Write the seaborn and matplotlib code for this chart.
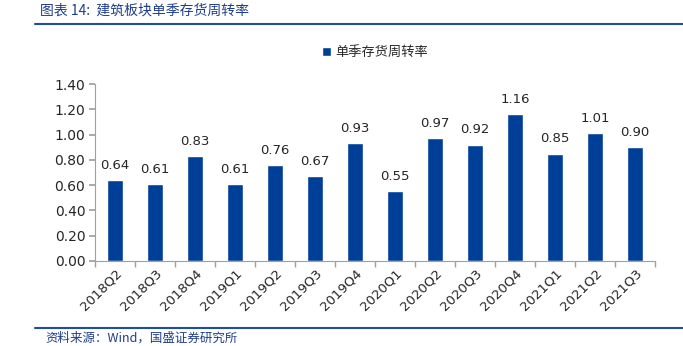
import matplotlib
matplotlib.use("Agg")
import matplotlib.pyplot as plt
import seaborn as sns
import pandas as pd

categories = ["2018Q2", "2018Q3", "2018Q4", "2019Q1", "2019Q2", "2019Q3", "2019Q4",
              "2020Q1", "2020Q2", "2020Q3", "2020Q4", "2021Q1", "2021Q2", "2021Q3"]
values = [0.64, 0.61, 0.83, 0.61, 0.76, 0.67, 0.93, 0.55, 0.97, 0.92, 1.16, 0.85, 1.01, 0.90]
series_name = "单季存货周转率"
yticks = [0.0, 0.2, 0.4, 0.6, 0.8, 1.0, 1.2, 1.4]

sns.set_theme(style="white")
plt.rcParams['font.family'] = ['Noto Sans CJK SC', 'DejaVu Sans']

df = pd.DataFrame({"q": categories, "v": values, "s": series_name})

fig = plt.figure(figsize=(6.83, 3.46), dpi=100)
ax = fig.add_axes([95/683, 1 - 261/346, (655 - 95)/683, (261 - 84)/346])

bar_color = "#003f98"
sns.barplot(data=df, x="q", y="v", hue="s", palette=[bar_color], width=0.4,
            ax=ax, saturation=1, legend=True)

ax.set_ylim(0, 1.4)
ax.set_xlim(-0.5, len(categories) - 0.5)
ax.set_yticks(yticks)
ax.set_yticklabels([f"{t:.2f}" for t in yticks], fontsize=10, family=['DejaVu Sans'])
ax.set_xlabel("")
ax.set_ylabel("")
ax.set_xticks([i for i in range(len(categories))])
ax.set_xticklabels(categories, rotation=45, ha="right", rotation_mode="anchor",
                   fontsize=9.5, family=['DejaVu Sans'])
ax.tick_params(axis='x', length=0, pad=4)
ax.tick_params(axis='y', length=4, color="#a0a0a0", left=True, pad=3)
ax.set_xticks([i - 0.5 for i in range(len(categories) + 1)], minor=True)
ax.tick_params(axis='x', which='minor', length=4, color="#a0a0a0", bottom=True)

for sp in ["top", "right"]:
    ax.spines[sp].set_visible(False)
for sp in ["left", "bottom"]:
    ax.spines[sp].set_color("#a0a0a0")
    ax.spines[sp].set_linewidth(0.8)

for cont in ax.containers:
    ax.bar_label(cont, labels=[f"{v:.2f}" for v in values], padding=6, fontsize=9.5,
                 family=['DejaVu Sans'])

ax.legend(loc="upper center", bbox_to_anchor=(0.5, 1.28), frameon=False, fontsize=9.5,
          handlelength=0.7, handleheight=0.7, handletextpad=0.3)

fig.text(40/683, 1 - 11/346, "图表 14:  建筑板块单季存货周转率", fontsize=10, color="#1f3d8a",
         style="italic", va="center", ha="left")
fig.add_artist(plt.Line2D([35/683, 1.0], [1 - 24/346, 1 - 24/346], color="#1f4e9c", lw=1.5))
fig.add_artist(plt.Line2D([35/683, 1.0], [1 - 328/346, 1 - 328/346], color="#1f4e9c", lw=1.5))
fig.text(45/683, 1 - 338/346, "资料来源：Wind，国盛证券研究所", fontsize=9, color="#1f3d8a",
         style="italic", va="center", ha="left")

fig.savefig("out.png", dpi=100)
